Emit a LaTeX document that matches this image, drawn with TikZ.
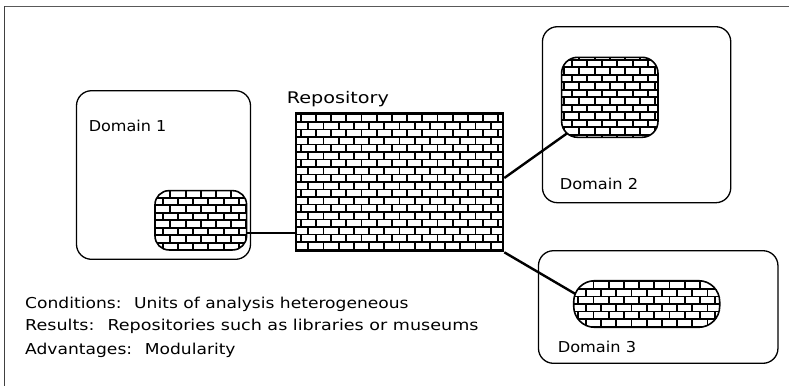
\documentclass[tikz,border=0pt]{standalone}
\usepackage{fontspec}
\setmainfont{DejaVu Sans}
\usetikzlibrary{backgrounds,calc}
\newcommand{\brickpat}{%
  \foreach \r in {-12,...,12}{%
    \pgfmathsetmacro{\yy}{\r*7.5}
    \pgfmathsetmacro{\off}{mod(\r+12,2)*7.6}
    \draw[mortar] (-130,\yy) -- (130,\yy);
    \foreach \c in {-8,...,8}{%
      \pgfmathsetmacro{\xx}{\off+\c*15.2}
      \draw[mortar] (\xx,\yy) -- (\xx,\yy+7.5);
    }
  }}
\tikzset{
  mortar/.style={line width=1.9pt, black},
  dombox/.style={draw, line width=1.3pt, rounded corners=15pt, inner sep=0pt},
  brickbox/.style={draw, line width=1.6pt, fill=white, inner sep=0pt, path picture={\brickpat}},
  lbl/.style={font=\fontsize{15}{18}\selectfont, anchor=west, inner sep=0pt, transform shape, xscale=#1},
  lbl/.default=1,
  conn/.style={line width=2.4pt}
}
\begin{document}
\begin{tikzpicture}[x=1pt,y=-1pt]
\useasboundingbox (0,0) rectangle (789,386);
% frame
\draw[gray!70!black, line width=1.3pt] (4,6.5) -- (789,6.5);
\draw[black!75, line width=1.3pt] (4.5,6) -- (4.5,386);
% domain boxes
\node[dombox, minimum width=174, minimum height=168.6] (d1) at (163.5,175) {};
\node[dombox, minimum width=188.3, minimum height=176] (d2) at (636.6,114.7) {};
\node[dombox, minimum width=239.5, minimum height=112.6] (d3) at (658.2,307) {};
% repository
\node[brickbox, line width=2.6pt, minimum width=207, minimum height=138] (repo) at (399.5,182) {};
% small bricks
\node[brickbox, rounded corners=14pt, minimum width=91.6, minimum height=59.3] (b1) at (200.8,220.3) {};
\node[brickbox, rounded corners=16pt, minimum width=96.4, minimum height=80] (b2) at (609.8,97.3) {};
\node[brickbox, rounded corners=21pt, minimum width=146, minimum height=46.6] (b3) at (646.7,304) {};
% labels
\node[lbl=1.2, anchor=center, font=\fontsize{16}{18}\selectfont] (rl) at (337.8,99) {Repository};
\node[lbl=1.07] (l1) at (88.6,126) {Domain 1};
\node[lbl=1.08] (l2) at (559.6,184) {Domain 2};
\node[lbl=1.08] (l3) at (557.6,346.7) {Domain 3};
\node[lbl=1.14] (t1) at (25,304) {Conditions:~ Units of analysis heterogeneous};
\node[lbl=1.17] (t2) at (25,326.7) {Results:~ Repositories such as libraries or museums};
\node[lbl=1.14] (t3) at (25,350) {Advantages:~ Modularity};
% connectors
\coordinate (c1) at (0,233);
\begin{pgfonlayer}{background}
\draw[conn] (b1.east |- c1) -- (repo.west |- c1);
\draw[conn] ($(repo.east)+(0,-4)$) -- ($(b2.south west)+(8,-6)$);
\draw[conn] (repo.south east) -- ($(b3.west)+(6,-8)$);
\end{pgfonlayer}
\end{tikzpicture}
\end{document}
